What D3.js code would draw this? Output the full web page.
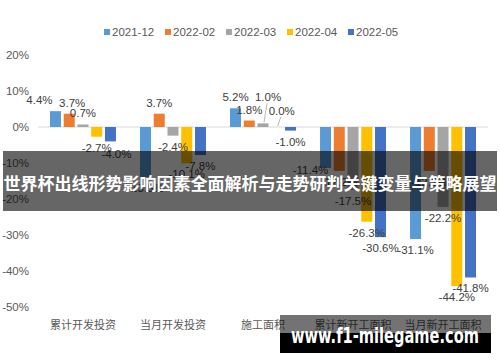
<!DOCTYPE html>
<html>
<head>
<meta charset="utf-8">
<script src="https://cdn.jsdelivr.net/npm/d3@7"></script>
<style>
  body { margin: 0; background: #fff; }
  svg text { font-family: "Liberation Sans", Arial, "Noto Sans CJK SC", sans-serif; }
</style>
</head>
<body>
<div class="chart"></div>
<script>
const categories = ["累计开发投资", "当月开发投资", "施工面积", "累计新开工面积", "当月新开工面积"];
const seriesNames = ["2021-12", "2022-02", "2022-03", "2022-04", "2022-05"];
const values_202112 = [4.4, -13.9, 5.2, -11.4, -31.1];
const values_202202 = [3.7, 3.7, 1.8, -12.2, -12.2];
const values_202203 = [0.7, -2.4, 1.0, -17.5, -22.2];
const values_202204 = [-2.7, -10.1, 0.0, -26.3, -44.2];
const values_202205 = [-4.0, -7.8, -1.0, -30.6, -41.8];
const yTicks = [20, 10, 0, -10, -20, -30, -40, -50];

const allValues = [values_202112, values_202202, values_202203, values_202204, values_202205];
const colors = ["#5B9BD5", "#ED7D31", "#A5A5A5", "#FFC000", "#4472C4"];

const width = 500, height = 362;

const svg = d3.select(".chart")
  .append("svg")
  .attr("width", width)
  .attr("height", height);

const x0 = d3.scaleBand()
  .domain(categories)
  .range([38, 488])
  .paddingInner(0.267)
  .paddingOuter(0.133);

const x1 = d3.scaleBand()
  .domain(seriesNames)
  .range([0, x0.bandwidth()])
  .paddingInner(0.2);

const yScale = d3.scaleLinear().domain([-50, 20]).range([307, 55]);

// y axis labels
svg.append("g")
  .selectAll("text")
  .data(yTicks)
  .enter()
  .append("text")
  .attr("x", 29)
  .attr("y", d => yScale(d))
  .attr("text-anchor", "end")
  .attr("dominant-baseline", "central")
  .attr("font-size", "11.5px")
  .attr("fill", "#595959")
  .text(d => d + "%");

// zero line
svg.append("line")
  .attr("x1", 38).attr("x2", 488)
  .attr("y1", yScale(0)).attr("y2", yScale(0))
  .attr("stroke", "#D9D9D9")
  .attr("stroke-width", 1);

const rows = [];
categories.forEach((c, i) => {
  seriesNames.forEach((s, j) => {
    rows.push({ cat: c, series: s, value: allValues[j][i], color: colors[j] });
  });
});

svg.append("g")
  .selectAll("rect")
  .data(rows)
  .enter()
  .append("rect")
  .attr("x", d => x0(d.cat) + x1(d.series))
  .attr("width", x1.bandwidth())
  .attr("y", d => yScale(Math.max(0, d.value)))
  .attr("height", d => Math.max(Math.abs(yScale(d.value) - yScale(0)), 0.01))
  .attr("fill", d => d.color);

// manually dragged labels, like in the source chart
const nudges = {
  "累计开发投资|2021-12": [-16, 0],
  "累计开发投资|2022-02": [3, 0],
  "累计开发投资|2022-05": [6, 2],
  "施工面积|2022-03": [5, -15],
  "施工面积|2022-04": [5, -5],
  "累计新开工面积|2021-12": [-15, -9]
};
const leaders = ["施工面积|2022-03", "施工面积|2022-04"];

function labelPos(d) {
  const cx = x0(d.cat) + x1(d.series) + x1.bandwidth() / 2;
  const cy = d.value >= 0 ? yScale(d.value) - 11 : yScale(d.value) + 11;
  const n = nudges[d.cat + "|" + d.series] || [0, 0];
  return [cx + n[0], cy + n[1], cx, yScale(d.value)];
}

svg.append("g")
  .selectAll("line")
  .data(rows.filter(d => leaders.includes(d.cat + "|" + d.series)))
  .enter()
  .append("line")
  .attr("x1", d => labelPos(d)[0] - 1)
  .attr("y1", d => labelPos(d)[1] + 6)
  .attr("x2", d => labelPos(d)[2] + 1)
  .attr("y2", d => labelPos(d)[3] - 1)
  .attr("stroke", "#A6A6A6")
  .attr("stroke-width", 0.8);

svg.append("g")
  .selectAll("text")
  .data(rows)
  .enter()
  .append("text")
  .attr("x", d => labelPos(d)[0])
  .attr("y", d => labelPos(d)[1])
  .attr("text-anchor", "middle")
  .attr("dominant-baseline", "central")
  .attr("font-size", "11.5px")
  .attr("fill", "#404040")
  .text(d => d.value.toFixed(1) + "%");

// category labels
svg.append("g")
  .selectAll("text")
  .data(categories)
  .enter()
  .append("text")
  .attr("x", d => x0(d) + x0.bandwidth() / 2)
  .attr("y", 325)
  .attr("text-anchor", "middle")
  .attr("dominant-baseline", "central")
  .attr("font-size", "11px")
  .attr("fill", "#595959")
  .text(d => d);

// legend
const legend = svg.append("g")
  .selectAll("g")
  .data(seriesNames)
  .enter()
  .append("g")
  .attr("transform", (d, i) => `translate(${104 + i * 61}, 32)`);

legend.append("rect")
  .attr("x", 0).attr("y", -3)
  .attr("width", 6).attr("height", 6)
  .attr("fill", (d, i) => colors[i]);

legend.append("text")
  .attr("x", 8)
  .attr("y", 0)
  .attr("dominant-baseline", "central")
  .attr("font-size", "11.5px")
  .attr("fill", "#595959")
  .text(d => d);

// overlay banner
svg.append("rect")
  .attr("x", 3).attr("y", 151)
  .attr("width", 494).attr("height", 60)
  .attr("fill", "rgba(0,0,0,0.6)");

svg.append("text")
  .attr("x", 250)
  .attr("y", 182)
  .attr("text-anchor", "middle")
  .attr("dominant-baseline", "central")
  .attr("font-size", "17px")
  .attr("font-weight", "bold")
  .attr("fill", "#fff")
  .style("font-family", "'Noto Sans CJK SC', sans-serif")
  .text("世界杯出线形势影响因素全面解析与走势研判关键变量与策略展望");

// watermark
svg.append("rect")
  .attr("x", 280).attr("y", 315)
  .attr("width", 211).attr("height", 18)
  .attr("fill", "rgba(0,0,0,0.55)");
svg.append("rect")
  .attr("x", 280).attr("y", 333)
  .attr("width", 211).attr("height", 20)
  .attr("fill", "#000");

svg.append("text")
  .attr("x", 291)
  .attr("y", 343)
  .attr("font-size", "21px")
  .attr("font-weight", "bold")
  .attr("fill", "#fff")
  .attr("textLength", 188)
  .attr("lengthAdjust", "spacingAndGlyphs")
  .style("font-family", "'DejaVu Sans', sans-serif")
  .text("www.f1-milegame.com");
</script>
</body>
</html>
